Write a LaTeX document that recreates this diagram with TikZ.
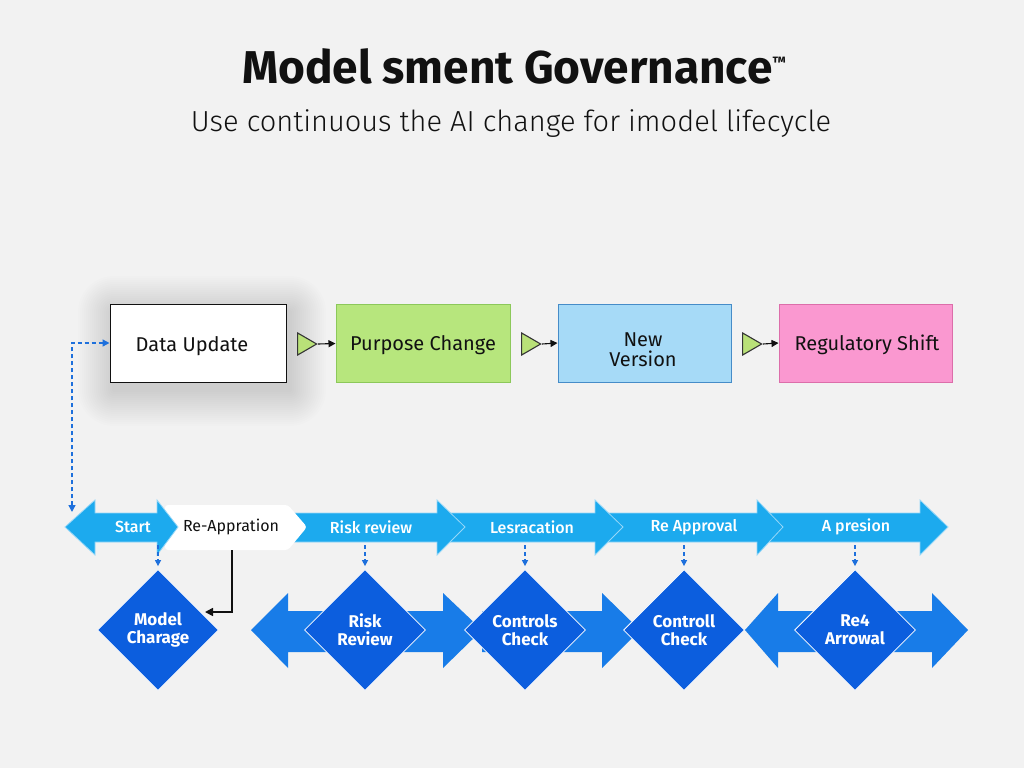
\documentclass[tikz,border=0pt]{standalone}
\usepackage{fontspec}
\setmainfont{Fira Sans}
\newfontfamily\lightfont{Fira Sans Light}
\newfontfamily\mediumfont{Fira Sans Medium}
\usetikzlibrary{shapes.geometric,arrows.meta}
\definecolor{bg}{RGB}{242,242,242}
\definecolor{ink}{RGB}{17,17,17}
\definecolor{banner}{RGB}{28,170,238}
\definecolor{bannerline}{RGB}{150,215,248}
\definecolor{bigarrow}{RGB}{24,124,232}
\definecolor{dia}{RGB}{12,94,222}
\definecolor{dashblue}{RGB}{30,112,220}
\definecolor{greenfill}{RGB}{183,230,125}
\definecolor{greenline}{RGB}{140,200,90}
\definecolor{bluefill}{RGB}{166,218,247}
\definecolor{blueline}{RGB}{70,140,200}
\definecolor{pinkfill}{RGB}{250,152,208}
\definecolor{pinkline}{RGB}{220,110,170}
\definecolor{tri}{RGB}{185,225,120}
\tikzset{
  topbox/.style={rectangle, minimum width=174pt, minimum height=78pt, line width=1pt, inner sep=0pt},
  boxtext/.style={font=\fontsize{20}{23}\selectfont, text=ink, align=center, inner sep=0pt},
  tribox/.style={isosceles triangle, isosceles triangle stretches=true, minimum width=22pt, minimum height=19pt, inner sep=0pt, fill=tri, draw=ink!85, line width=1.1pt},
  smallarrow/.style={-{Triangle[length=7pt,width=7pt]}, line width=1.1pt, ink},
  bannertext/.style={font=\mediumfont\fontsize{16}{18}\selectfont, text=white},
  diamondnode/.style={diamond, aspect=1, minimum size=121pt, inner sep=0pt, fill=dia, draw=white, line width=0.8pt, text=white, font=\bfseries\fontsize{17}{20}\selectfont, align=center},
  bluedash/.style={dashblue, line width=1.4pt, dash pattern=on 4pt off 3pt, -{Triangle[length=6pt,width=6pt]}},
  bannershape/.style={fill=banner, draw=bannerline, line width=0.8pt},
  bigshape/.style={fill=bigarrow}
}
\begin{document}
\begin{tikzpicture}[x=1pt,y=-1pt]
\useasboundingbox (0,0) rectangle (1024,768);
\fill[bg] (0,0) rectangle (1024,768);

% Title
\node[font=\bfseries\fontsize{46}{52}\selectfont, text=ink] (title) at (514,66) {Model sment Governance\raisebox{16pt}{\fontsize{15}{15}\selectfont ™}};
\node[font=\lightfont\fontsize{29}{34}\selectfont, text=ink] (subtitle) at (511,124) {Use continuous the AI change for imodel lifecycle};

% soft shadow for Data Update
\foreach \s in {2,4,...,36}{
  \fill[black, opacity=0.007, rounded corners=\s pt] (114-\s,312-\s) rectangle (290+\s,390+\s);
}

% Top boxes
\node[topbox, fill=white, draw=ink, minimum width=176pt] (du) at (198,343) {};
\node[topbox, fill=greenfill, draw=greenline] (pc) at (423,343.5) {};
\node[topbox, fill=bluefill, draw=blueline, minimum width=173pt] (nv) at (644.5,343) {};
\node[topbox, fill=pinkfill, draw=pinkline, minimum width=173pt] (rs) at (865.5,343) {};
\node[boxtext] (dut) at (192,346) {Data Update};
\node[boxtext] (pct) at (423,345) {Purpose Change};
\node[boxtext] (nvt) at (643,350) {New\\[-3pt]Version};
\node[boxtext] (rst) at (867,345) {Regulatory Shift};

\node[tribox] (t1) at (304,344) {};
\node[tribox] (t2) at (528,344) {};
\node[tribox] (t3) at (749,344) {};
\draw[smallarrow] (t1.east) -- (pc.west);
\draw[smallarrow] (t2.east) -- (nv.west);
\draw[smallarrow] (t3.east) -- (rs.west);

% Banner row (drawn right to left)
\draw[bannershape] (765,513) -- (920,513) -- (920,500) -- (948,527) -- (920,555) -- (920,542) -- (765,542) -- cycle;
\draw[bannershape] (605,513) -- (757,513) -- (757,500) -- (783,527) -- (757,555) -- (757,542) -- (605,542) -- cycle;
\draw[bannershape] (445,513) -- (595,513) -- (595,500) -- (623,527) -- (595,555) -- (595,542) -- (445,542) -- cycle;
\draw[bannershape] (290,513) -- (437,513) -- (437,500) -- (465,527) -- (437,555) -- (437,542) -- (290,542) -- cycle;
\fill[white, rounded corners=3pt] (165,505) -- (288,505) -- (307,527) -- (288,550) -- (165,550) -- cycle;
\draw[bannershape] (65,527) -- (95,500) -- (95,513) -- (157,513) -- (157,500) -- (178,527) -- (157,555) -- (157,542) -- (95,542) -- (95,555) -- cycle;

\node[bannertext] (st) at (133,527) {Start};
\node[font=\fontsize{16}{18}\selectfont, text=ink] (ra) at (231,527) {Re-Appration};
\node[bannertext] (rr) at (371,527) {Risk review};
\node[bannertext] (ls) at (532,527) {Lesracation};
\node[bannertext] (rp) at (694,527) {Re Approval};
\node[bannertext] (ap) at (856,527) {A presion};

% Bottom big arrows
\fill[bigshape] (251,630) -- (288,593) -- (288,611) -- (443,611) -- (443,593) -- (482,630) -- (443,668) -- (443,652) -- (288,652) -- (288,668) -- cycle;
\fill[bigshape] (482,611) -- (602,611) -- (602,593) -- (640,630) -- (602,668) -- (602,652) -- (482,652) -- cycle;
\fill[bigshape] (745,630) -- (778,593) -- (778,611) -- (932,611) -- (932,593) -- (968,630) -- (932,668) -- (932,652) -- (778,652) -- (778,668) -- cycle;

% Diamonds
\node[diamondnode] (mc) at (158,630) {Model\\[-2pt]Charage};
\node[diamondnode] (rv) at (365,630) {Risk\\[-2pt]Review};
\node[diamondnode] (cc) at (525,630) {Controls\\[-2pt]Check};
\node[diamondnode] (ck) at (684,630) {Controll\\[-2pt]Check};
\node[diamondnode] (ra4) at (855,630) {Re4\\[-2pt]Arrowal};

% dashed drop arrows
\coordinate (b1) at (158,545);
\coordinate (b2) at (365,545);
\coordinate (b3) at (525,545);
\coordinate (b4) at (684,545);
\coordinate (b5) at (855,545);
\draw[bluedash, shorten >=3pt] (b1) -- (mc.north);
\draw[bluedash, shorten >=3pt] (b2) -- (rv.north);
\draw[bluedash, shorten >=3pt] (b3) -- (cc.north);
\draw[bluedash, shorten >=3pt] (b4) -- (ck.north);
\draw[bluedash, shorten >=3pt] (b5) -- (ra4.north);

% Left feedback dashed connector
\coordinate (sb) at (72,512);
\draw[bluedash, {Triangle[length=7pt,width=7pt]}-{Triangle[length=7pt,width=7pt]}] (sb) |- (du.west);

% Black connector
\coordinate (rab) at (232,550);
\coordinate (mcin) at (205,612);
\draw[line width=1.6pt, ink, -{Triangle[length=8pt,width=8pt]}] (rab) |- (mcin);
\end{tikzpicture}
\end{document}
